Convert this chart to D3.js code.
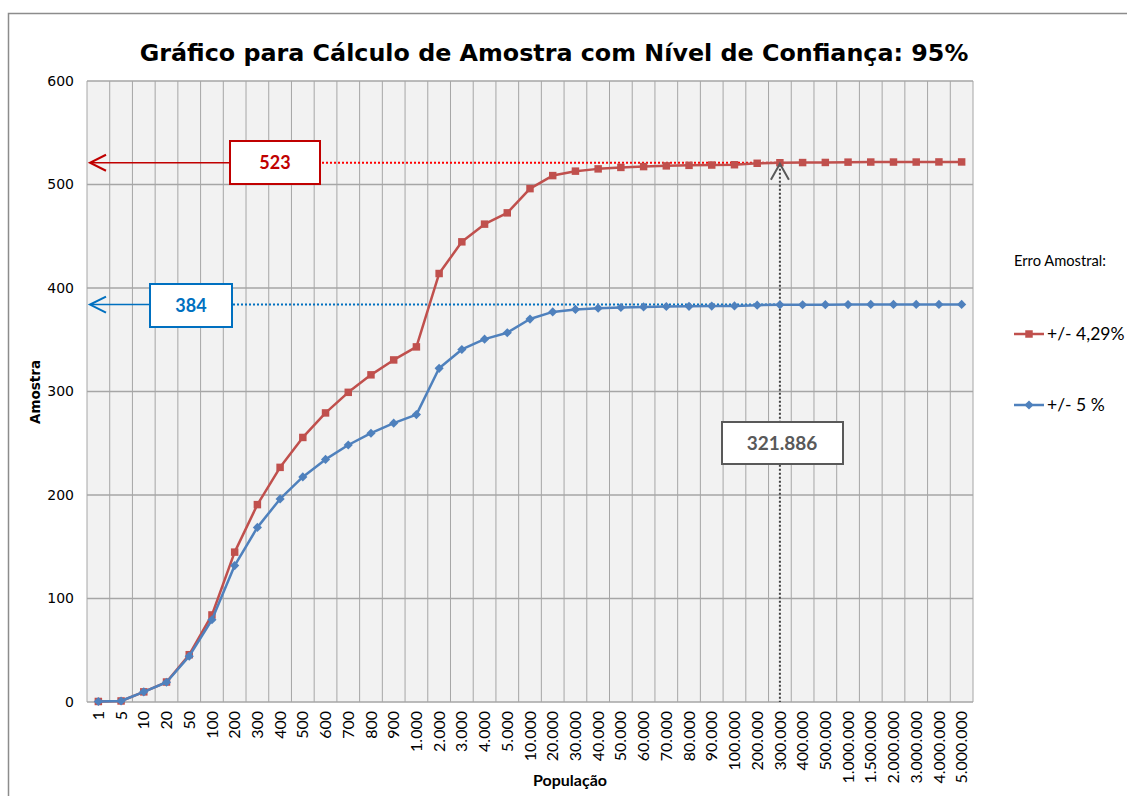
<!DOCTYPE html>
<html>
<head>
<meta charset="utf-8">
<script src="https://cdn.jsdelivr.net/npm/d3@7"></script>
<style>
  body { margin: 0; background: #fff; }
  svg { display: block; }
</style>
</head>
<body>
<svg></svg>
<script>
// categories (população) and the two sample-size series
var populacao = ["1", "5", "10", "20", "50", "100", "200", "300", "400", "500", "600", "700", "800", "900",
  "1.000", "2.000", "3.000", "4.000", "5.000", "10.000", "20.000", "30.000", "40.000", "50.000",
  "60.000", "70.000", "80.000", "90.000", "100.000", "200.000", "300.000", "400.000", "500.000",
  "1.000.000", "1.500.000", "2.000.000", "3.000.000", "4.000.000", "5.000.000"];

var erro429 = [0.5, 1, 9.8, 19.3, 45.7, 84.1, 144.8, 190.7, 226.7, 255.6, 279.3, 299.2, 316.1, 330.5,
  343.1, 414, 444.6, 461.7, 472.6, 496, 508.6, 512.9, 515.1, 516.5, 517.3, 518, 518.5, 518.8,
  519.1, 520.5, 521, 521.2, 521.3, 521.6, 521.7, 521.7, 521.7, 521.8, 521.8];

var erro5 = [0.5, 1, 9.8, 19.1, 44.3, 79.5, 131.8, 168.7, 196.2, 217.5, 234.4, 248.3, 259.7, 269.4,
  277.7, 322.4, 340.6, 350.6, 356.8, 370, 376.9, 379.3, 380.5, 381.2, 381.7, 382.1, 382.3, 382.5,
  382.7, 383.4, 383.7, 383.8, 383.9, 384, 384.1, 384.1, 384.1, 384.1, 384.1];

var yTicks = [0, 100, 200, 300, 400, 500, 600];

var width = 1127, height = 796;
var svg = d3.select("svg").attr("width", width).attr("height", height);

var plotL = 87, plotR = 973, plotT = 81, plotB = 702;
var red = "#C0504D", blue = "#4F81BD";
var font = "Lato, 'Open Sans', sans-serif";
var verdana = "'DejaVu Sans', Verdana, sans-serif";

var x = d3.scaleBand().domain(populacao).range([plotL, plotR]).padding(0);
var y = d3.scaleLinear().domain([0, 600]).range([plotB, plotT]);

// outer chart frame
svg.append("rect")
  .attr("x", 8.5).attr("y", 13.5)
  .attr("width", width + 10).attr("height", height + 10)
  .attr("fill", "none").attr("stroke", "#8c8c8c").attr("stroke-width", 1.5);

// title
svg.append("text")
  .attr("x", 554).attr("y", 61)
  .attr("text-anchor", "middle")
  .style("font-family", verdana)
  .style("font-weight", "bold").style("font-size", "23.8px")
  .text("Gráfico para Cálculo de Amostra com Nível de Confiança: 95%");

// plot background
svg.append("rect")
  .attr("x", plotL).attr("y", plotT)
  .attr("width", plotR - plotL).attr("height", plotB - plotT)
  .attr("fill", "#F2F2F2");

// vertical gridlines at band edges
var edges = populacao.map(function(d) { return x(d); }).concat([plotR]);
svg.append("g").selectAll("line")
  .data(edges)
  .enter().append("line")
  .attr("x1", function(d) { return d; }).attr("x2", function(d) { return d; })
  .attr("y1", plotT).attr("y2", plotB)
  .attr("stroke", "#a6a6a6").attr("stroke-width", 1);

// horizontal gridlines
svg.append("g").selectAll("line")
  .data(yTicks)
  .enter().append("line")
  .attr("x1", plotL).attr("x2", plotR)
  .attr("y1", function(d) { return y(d); }).attr("y2", function(d) { return y(d); })
  .attr("stroke", "#a6a6a6").attr("stroke-width", 1.5);

// y axis labels
var yAxis = d3.axisLeft(y).tickValues(yTicks).tickSize(0).tickPadding(13);
var gy = svg.append("g").attr("transform", "translate(" + plotL + ",0)").call(yAxis);
gy.select(".domain").remove();
gy.selectAll("text").style("font-family", verdana).style("font-size", "14px").attr("fill", "#000");

// x axis labels (rotated)
var xAxis = d3.axisBottom(x).tickSize(0).tickPadding(0);
var gx = svg.append("g").attr("transform", "translate(0," + plotB + ")").call(xAxis);
gx.select(".domain").remove();
gx.selectAll("text")
  .attr("transform", "rotate(-90)")
  .attr("x", -9).attr("y", 0).attr("dy", "0.35em")
  .attr("text-anchor", "end")
  .style("font-family", font).style("font-size", "16px").attr("fill", "#000");

// axis titles
svg.append("text")
  .attr("transform", "translate(40,392) rotate(-90)")
  .attr("text-anchor", "middle")
  .style("font-family", verdana).style("font-weight", "bold").style("font-size", "13.5px")
  .text("Amostra");
svg.append("text")
  .attr("x", 570).attr("y", 786)
  .attr("text-anchor", "middle")
  .style("font-family", font).style("font-weight", "bold").style("font-size", "16px")
  .text("População");

// annotation guide lines (drawn under the series)
var redLevel = 521, blueLevel = 384;
var cx300 = x("300.000") + x.bandwidth() / 2;

svg.append("line")
  .attr("x1", 322).attr("x2", cx300)
  .attr("y1", y(redLevel)).attr("y2", y(redLevel))
  .attr("stroke", "#ff0000").attr("stroke-width", 2).attr("stroke-dasharray", "2,2");
svg.append("line")
  .attr("x1", 233).attr("x2", cx300)
  .attr("y1", y(blueLevel)).attr("y2", y(blueLevel))
  .attr("stroke", "#0070C0").attr("stroke-width", 2).attr("stroke-dasharray", "2,2");
svg.append("line")
  .attr("x1", cx300).attr("x2", cx300)
  .attr("y1", y(redLevel) + 2).attr("y2", plotB)
  .attr("stroke", "#404040").attr("stroke-width", 2).attr("stroke-dasharray", "2,2");

// series (blue marker = square turned 45deg, like Excel's diamond)
var series = [
  { name: "+/- 4,29%", values: erro429, color: red, size: 56, rot: 0 },
  { name: "+/- 5 %", values: erro5, color: blue, size: 42, rot: 45 }
];

var line = d3.line()
  .x(function(d, i) { return x(populacao[i]) + x.bandwidth() / 2; })
  .y(function(d) { return y(d); });

series.forEach(function(s) {
  svg.append("path")
    .datum(s.values)
    .attr("d", line)
    .attr("fill", "none").attr("stroke", s.color).attr("stroke-width", 2.5)
    .attr("stroke-linejoin", "round");
  svg.append("g").selectAll("path")
    .data(s.values)
    .enter().append("path")
    .attr("d", d3.symbol().type(d3.symbolSquare).size(s.size))
    .attr("transform", function(d, i) {
      return "translate(" + (x(populacao[i]) + x.bandwidth() / 2) + "," + y(d) + ") rotate(" + s.rot + ")";
    })
    .attr("fill", s.color);
});

// arrow chevron helper
function chevron(tx, ty, dir, color) {
  var p;
  if (dir === "left") p = [[tx + 16, ty - 8], [tx, ty], [tx + 16, ty + 8]];
  else p = [[tx - 9, ty + 16], [tx, ty], [tx + 9, ty + 16]];
  svg.append("path")
    .attr("d", d3.line()(p))
    .attr("fill", "none").attr("stroke", color).attr("stroke-width", 2);
}

// red callout 523
svg.append("line").attr("x1", 91).attr("x2", 230)
  .attr("y1", y(redLevel)).attr("y2", y(redLevel))
  .attr("stroke", "#C00000").attr("stroke-width", 1.5);
chevron(90, y(redLevel), "left", "#C00000");
svg.append("rect").attr("x", 230).attr("y", 141).attr("width", 90).attr("height", 43)
  .attr("fill", "#fff").attr("stroke", "#C00000").attr("stroke-width", 2);
svg.append("text").attr("x", 275).attr("y", 169).attr("text-anchor", "middle")
  .style("font-family", font).style("font-weight", "bold").style("font-size", "18px")
  .attr("fill", "#C00000").text("523");

// blue callout 384
svg.append("line").attr("x1", 91).attr("x2", 150)
  .attr("y1", y(blueLevel)).attr("y2", y(blueLevel))
  .attr("stroke", "#0070C0").attr("stroke-width", 1.5);
chevron(90, y(blueLevel), "left", "#0070C0");
svg.append("rect").attr("x", 150).attr("y", 284).attr("width", 82).attr("height", 43)
  .attr("fill", "#fff").attr("stroke", "#0070C0").attr("stroke-width", 2);
svg.append("text").attr("x", 191).attr("y", 312).attr("text-anchor", "middle")
  .style("font-family", font).style("font-weight", "bold").style("font-size", "18px")
  .attr("fill", "#0070C0").text("384");

// grey callout 321.886
chevron(cx300, y(redLevel) + 1, "up", "#595959");
svg.append("rect").attr("x", 722).attr("y", 422).attr("width", 121).attr("height", 42)
  .attr("fill", "#fff").attr("stroke", "#595959").attr("stroke-width", 2);
svg.append("text").attr("x", 782).attr("y", 450).attr("text-anchor", "middle")
  .style("font-family", font).style("font-weight", "bold").style("font-size", "19px")
  .attr("fill", "#595959").text("321.886");

// legend
svg.append("text").attr("x", 1014).attr("y", 266)
  .style("font-family", font).style("font-size", "14.7px").text("Erro Amostral:");
var legend = svg.append("g").selectAll("g")
  .data(series)
  .enter().append("g")
  .attr("transform", function(d, i) { return "translate(1014," + (334 + i * 71) + ")"; });
legend.append("line").attr("x1", 0).attr("x2", 30)
  .attr("stroke", function(d) { return d.color; }).attr("stroke-width", 2.5);
legend.append("path")
  .attr("d", function(d) { return d3.symbol().type(d3.symbolSquare).size(d.size)(); })
  .attr("transform", function(d) { return "translate(15,0) rotate(" + d.rot + ")"; })
  .attr("fill", function(d) { return d.color; });
legend.append("text").attr("x", 33).attr("y", 0).attr("dy", "0.35em")
  .style("font-family", font).style("font-size", "17.5px")
  .text(function(d) { return d.name; });
</script>
</body>
</html>
